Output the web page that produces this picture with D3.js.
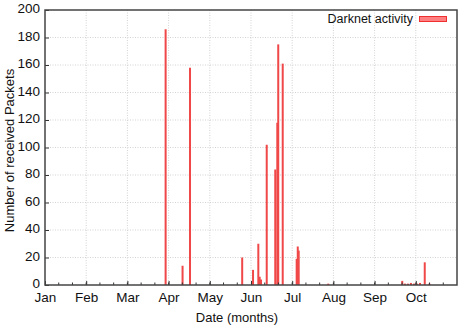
<!DOCTYPE html>
<html>
<head>
<meta charset="utf-8">
<script src="https://cdn.jsdelivr.net/npm/d3@7"></script>
<style>
  body { margin: 0; background: #fff; }
  svg text { font-family: "Liberation Sans", Arial, sans-serif; fill: #111; }
</style>
</head>
<body>
<svg id="chart"></svg>
<script>
// Day of year (from Jan 1) and packet counts
const days    = [89, 101.5, 107, 145.5, 153.5, 157.4, 158.4, 159.4, 163.6, 169.9, 171.4, 172.1, 175.4,
                 185.7, 186.5, 187.2, 209, 263.6, 265.6, 267.8, 270, 272.3, 274.5, 276.7, 280.2, 283.6];
const packets = [186, 14, 158, 20, 11, 30, 6, 4, 102, 84, 118, 175, 161,
                 19, 28, 25, 1, 3, 1, 1, 1.5, 1, 1, 1.5, 16.5, 1];
const months  = ["Jan", "Feb", "Mar", "Apr", "May", "Jun", "Jul", "Aug", "Sep", "Oct"];
const yTicks  = [0, 20, 40, 60, 80, 100, 120, 140, 160, 180, 200];
const monthLen = 30.4;   // gnuplot style mean month

const W = 474, H = 331;
const margin = { top: 10, right: 17, bottom: 46, left: 45 },
  width = W - margin.left - margin.right,
  height = H - margin.top - margin.bottom;

const svg = d3.select("#chart").attr("width", W).attr("height", H);
const g = svg.append("g").attr("transform", `translate(${margin.left},${margin.top})`);

let x = d3.scaleLinear([0, 10 * monthLen], [0, width]);
let y = d3.scaleLinear([0, 200], [height, 0]);

const majorX = months.map((m, i) => i * monthLen);
const minorX = d3.range(0, 30).map(i => i * monthLen / 3).filter(d => d % monthLen > 0.01 && d < 10 * monthLen);

// Grid
g.append("g").selectAll("line").data(yTicks.slice(1, -1)).join("line")
  .attr("x1", 0).attr("x2", width)
  .attr("y1", d => y(d)).attr("y2", d => y(d))
  .attr("stroke", "#c8c8c8").attr("stroke-width", 0.8).attr("stroke-dasharray", "1,1.5");
g.append("g").selectAll("line").data(majorX.slice(1)).join("line")
  .attr("x1", d => x(d)).attr("x2", d => x(d))
  .attr("y1", 0).attr("y2", height)
  .attr("stroke", "#c8c8c8").attr("stroke-width", 0.8).attr("stroke-dasharray", "1,1.5");

// Bars
g.append("g").selectAll("rect").data(days).join("rect")
  .attr("x", (d) => x(d) - 1)
  .attr("width", 2)
  .attr("y", (d, i) => y(packets[i]))
  .attr("height", (d, i) => height - y(packets[i]))
  .attr("fill", "#f04848");

// Axes (ticks pointing inward)
const xAxis = d3.axisBottom(x).tickValues(majorX)
  .tickFormat((d, i) => months[i]).tickSizeInner(-4).tickSizeOuter(0).tickPadding(9);
const gx = g.append("g").attr("transform", `translate(0,${height})`).call(xAxis);
gx.select(".domain").remove();
gx.selectAll("line").attr("stroke", "#333");
gx.selectAll("text").attr("font-size", 13.5).attr("dy", "0.6em");

g.append("g").selectAll("line").data(minorX).join("line")
  .attr("x1", d => x(d)).attr("x2", d => x(d))
  .attr("y1", height).attr("y2", height - 2.5)
  .attr("stroke", "#333");

const yAxis = d3.axisLeft(y).tickValues(yTicks).tickSizeInner(-4).tickSizeOuter(0).tickPadding(5);
const gy = g.append("g").call(yAxis);
gy.select(".domain").remove();
gy.selectAll("line").attr("stroke", "#333");
gy.selectAll("text").attr("font-size", 13.5).attr("dy", "0.22em");

// Frame
g.append("rect").attr("width", width).attr("height", height)
  .attr("fill", "none").attr("stroke", "#444").attr("stroke-width", 1.5);

// Axis labels
svg.append("text")
  .attr("text-anchor", "middle")
  .attr("x", margin.left + width / 2 - 14)
  .attr("y", 322)
  .attr("font-size", 13)
  .text("Date (months)");

svg.append("text")
  .attr("text-anchor", "middle")
  .attr("transform", `translate(14,${margin.top + height / 2 + 3}) rotate(-90)`)
  .attr("font-size", 13)
  .text("Number of received Packets");

// Legend
const lg = g.append("g");
lg.append("text")
  .attr("text-anchor", "end")
  .attr("x", 413 - margin.left)
  .attr("y", 23 - margin.top)
  .attr("font-size", 12.5)
  .text("Darknet activity");
lg.append("rect")
  .attr("x", 419.5 - margin.left).attr("y", 16.5 - margin.top)
  .attr("width", 27).attr("height", 5)
  .attr("fill", "#ff8080").attr("stroke", "#f03030").attr("stroke-width", 1);
</script>
</body>
</html>
